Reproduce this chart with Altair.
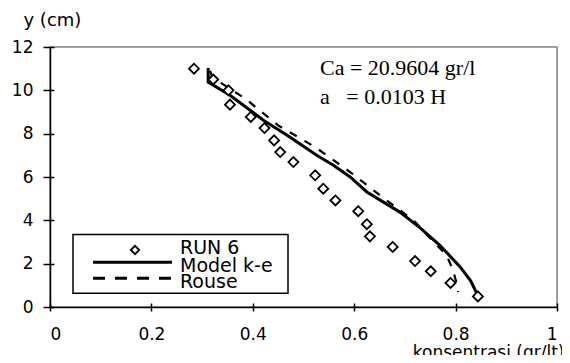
import altair as alt
import pandas as pd

# RUN 6 measured points
run_x = [0.284, 0.322, 0.352, 0.355, 0.396, 0.423, 0.442, 0.454, 0.480, 0.523,
         0.539, 0.563, 0.608, 0.625, 0.631, 0.676, 0.720, 0.751, 0.790, 0.844]
run_y = [11.0, 10.5, 10.0, 9.34, 8.77, 8.26, 7.69, 7.15, 6.69, 6.08,
         5.46, 4.92, 4.42, 3.82, 3.26, 2.77, 2.12, 1.65, 1.11, 0.49]

# Model k-e curve
ke_x = [0.312, 0.312, 0.355, 0.421, 0.473, 0.526, 0.559, 0.592, 0.625, 0.690,
        0.730, 0.769, 0.809, 0.830, 0.842]
ke_y = [11.03, 10.38, 9.77, 8.62, 7.85, 7.00, 6.54, 6.00, 5.31, 4.38,
        3.65, 2.85, 1.85, 1.20, 0.62]

# Rouse curve
rouse_x = [0.316, 0.320, 0.385, 0.450, 0.523, 0.592, 0.651, 0.717, 0.757,
           0.782, 0.795, 0.803, 0.805]
rouse_y = [10.90, 10.60, 9.62, 8.38, 7.38, 6.23, 5.15, 4.00, 3.00,
           2.40, 1.70, 1.00, 0.69]

x_ticks = [0, 0.2, 0.4, 0.6, 0.8, 1.0]
y_ticks = [0, 2, 4, 6, 8, 10, 12]

legend_labels = ["RUN 6", "Model k-e", "Rouse"]
annot_lines = ["Ca = 20.9604 gr/l", "a\u00a0\u00a0\u00a0= 0.0103 H"]

FONT = "DejaVu Sans"
W, H = 507, 260

run_df = pd.DataFrame({"x": run_x, "y": run_y})
ke_df = pd.DataFrame({"x": ke_x, "y": ke_y, "o": range(len(ke_x))})
rouse_df = pd.DataFrame({"x": rouse_x, "y": rouse_y, "o": range(len(rouse_x))})

xscale = alt.Scale(domain=[0, 1], nice=False, zero=False)
yscale = alt.Scale(domain=[0, 12], nice=False, zero=False)

x_axis = alt.Axis(values=x_ticks, format="~g", orient="bottom", grid=False,
                  domainColor="black", domainWidth=1.5, tickColor="black",
                  tickWidth=1.5, tickSize=4, labelFont=FONT, labelFontSize=17,
                  labelColor="black", labelPadding=15,
                  title="konsentrasi (gr/lt)", titleFont=FONT, titleFontSize=17,
                  titleFontWeight="normal", titleColor="black",
                  titleAlign="right", titleAnchor="end", titleX=514, titleY=50,
                  titleBaseline="alphabetic")
y_axis = alt.Axis(values=y_ticks, orient="left", grid=False,
                  domainColor="black", domainWidth=1.5, tickColor="black",
                  tickWidth=1.5, tickSize=7, labelFont=FONT, labelFontSize=17,
                  labelColor="black", labelPadding=10,
                  title="y (cm)", titleFont=FONT, titleFontSize=18,
                  titleFontWeight="normal", titleColor="black", titleAngle=0,
                  titleAlign="left", titleX=-27, titleY=-22,
                  titleBaseline="alphabetic")

points = alt.Chart(run_df).mark_point(
    shape="diamond", size=100, fill="white", fillOpacity=1,
    stroke="black", strokeWidth=1.8, opacity=1
).encode(
    x=alt.X("x:Q", scale=xscale, axis=x_axis),
    y=alt.Y("y:Q", scale=yscale, axis=y_axis),
)

# inner halves of the crossing ticks
x_axis_in = alt.Axis(values=x_ticks, orient="bottom", offset=-4, domain=False,
                     labels=False, title="", grid=False, tickColor="black",
                     tickWidth=1.5, tickSize=4)
y_axis_in = alt.Axis(values=y_ticks, orient="left", offset=-4, domain=False,
                     labels=False, title="", grid=False, tickColor="black",
                     tickWidth=1.5, tickSize=4)
inner = alt.Chart(run_df).mark_point(opacity=0).encode(
    x=alt.X("x:Q", scale=xscale, axis=x_axis_in),
    y=alt.Y("y:Q", scale=yscale, axis=y_axis_in),
)

ke_line = alt.Chart(ke_df).mark_line(color="black", strokeWidth=3).encode(
    x=alt.X("x:Q", scale=xscale, axis=None),
    y=alt.Y("y:Q", scale=yscale, axis=None), order="o:Q"
)
rouse_line = alt.Chart(rouse_df).mark_line(
    color="black", strokeWidth=2.2, strokeDash=[8, 9]
).encode(
    x=alt.X("x:Q", scale=xscale, axis=None),
    y=alt.Y("y:Q", scale=yscale, axis=None), order="o:Q"
)

one = pd.DataFrame({"k": [0]})

leg_box = alt.Chart(one).mark_rect(
    fill="white", stroke="black", strokeWidth=1.5
).encode(x=alt.value(23), x2=alt.value(238), y=alt.value(187.5), y2=alt.value(246.3))

leg_diamond = alt.Chart(one).mark_point(
    shape="diamond", size=70, fill="white", fillOpacity=1, stroke="black",
    strokeWidth=1.8, opacity=1
).encode(x=alt.value(85), y=alt.value(203))

leg_solid = alt.Chart(one).mark_rule(color="black", strokeWidth=3).encode(
    x=alt.value(43), x2=alt.value(122), y=alt.value(215.3))
leg_dash = alt.Chart(one).mark_rule(
    color="black", strokeWidth=3, strokeDash=[12, 10]
).encode(x=alt.value(43), x2=alt.value(124), y=alt.value(231.3))

leg_df = pd.DataFrame({"label": legend_labels, "yy": [207, 224.5, 241]})
leg_text = alt.Chart(leg_df).mark_text(
    align="left", baseline="alphabetic", font=FONT, fontSize=19, color="black"
).encode(x=alt.value(130), y=alt.Y("yy:Q", scale=None, axis=None),
         text="label:N")

ann_df = pd.DataFrame({"label": annot_lines, "yy": [28, 57]})
ann_text = alt.Chart(ann_df).mark_text(
    align="left", baseline="alphabetic", font="Liberation Serif", fontSize=22,
    color="black"
).encode(x=alt.value(270), y=alt.Y("yy:Q", scale=None, axis=None), text="label:N")

chart = alt.layer(
    inner, ke_line, rouse_line, points, leg_box, leg_diamond, leg_solid,
    leg_dash, leg_text, ann_text
).resolve_axis(x="independent", y="independent").properties(
    width=W, height=H,
    padding={"left": 42, "top": 39, "right": 5, "bottom": 48},
    autosize=alt.AutoSizeParams(type="none"),
).configure_view(stroke="#808080", strokeWidth=1.5)

chart.save("out.html", embed_options={"renderer": "svg", "actions": False})
